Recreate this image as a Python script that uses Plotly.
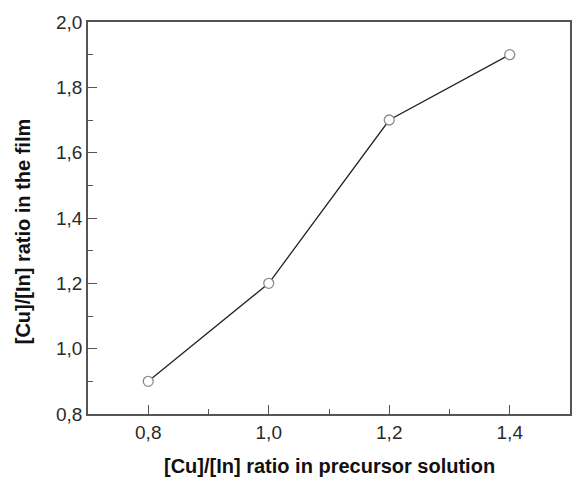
import plotly.graph_objects as go

precursor_ratio = [0.8, 1.0, 1.2, 1.4]
film_ratio = [0.9, 1.2, 1.7, 1.9]

x_ticks = [0.8, 1.0, 1.2, 1.4]
y_ticks = [0.8, 1.0, 1.2, 1.4, 1.6, 1.8, 2.0]

x_title = "[Cu]/[In] ratio in precursor solution"
y_title = "[Cu]/[In] ratio in the film"

FONT = "Liberation Sans, Arial, sans-serif"

fig = go.Figure()
fig.add_trace(go.Scatter(
    x=precursor_ratio, y=film_ratio,
    mode="lines+markers",
    line=dict(color="#222222", width=1.3),
    marker=dict(symbol="circle", size=10, color="white",
                line=dict(color="#8a8a8a", width=1.3)),
    showlegend=False,
))

axis_common = dict(
    showline=True, linecolor="#555555", linewidth=1.5, mirror=True,
    ticks="inside", ticklen=9, tickwidth=1.2, tickcolor="#555555",
    showgrid=False, zeroline=False,
    tickfont=dict(family=FONT, size=19, color="#2a2a2a"),
    tickformat=".1f",
    minor=dict(ticks="inside", ticklen=5, tickwidth=1.2, tickcolor="#555555", showgrid=False),
)

fig.update_xaxes(range=[0.7, 1.5], tickvals=x_ticks, minor_dtick=0.1, minor_tick0=0.7, **axis_common)
fig.update_yaxes(range=[0.8, 2.0], tickvals=y_ticks, minor_dtick=0.1, minor_tick0=0.8, **axis_common)

fig.add_annotation(
    text="<b>" + x_title + "</b>", xref="paper", yref="paper",
    x=0.5, y=-0.1327, xanchor="center", yanchor="middle", showarrow=False,
    font=dict(family=FONT, size=20, color="#111111"),
)
fig.add_annotation(
    text="<b>" + y_title + "</b>", xref="paper", yref="paper",
    x=-0.1343, y=0.4668, xanchor="center", yanchor="middle", showarrow=False,
    textangle=-90,
    font=dict(family=FONT, size=20, color="#111111"),
)

fig.update_layout(
    width=573, height=477,
    margin=dict(l=88, r=1, t=22, b=63),
    plot_bgcolor="white", paper_bgcolor="white",
    separators=", ",
)

fig.write_html("out.html", config={"displayModeBar": False},
               post_script="document.body.style.margin='0';")
